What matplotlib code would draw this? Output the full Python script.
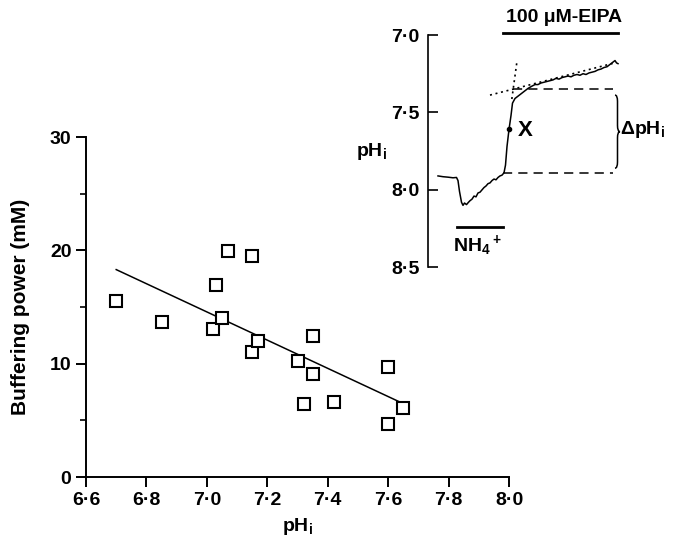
import matplotlib
matplotlib.use("Agg")
import matplotlib.pyplot as plt
from matplotlib.path import Path
from matplotlib.patches import PathPatch
from matplotlib.ticker import FixedLocator

plt.rcParams['font.family'] = ['Liberation Sans', 'DejaVu Sans']
plt.rcParams['font.weight'] = 'bold'
plt.rcParams['axes.labelweight'] = 'bold'
plt.rcParams['mathtext.fontset'] = 'custom'
plt.rcParams['mathtext.rm'] = 'Liberation Sans:bold'
plt.rcParams['mathtext.it'] = 'Liberation Sans:bold'
plt.rcParams['mathtext.bf'] = 'Liberation Sans:bold'

FS = 14

# main panel: buffering power vs pHi
ph_pts = [6.70, 6.85, 7.02, 7.05, 7.03, 7.07, 7.15, 7.15, 7.17, 7.30,
          7.35, 7.35, 7.32, 7.42, 7.60, 7.60, 7.65]
buff_pts = [15.5, 13.7, 13.1, 14.0, 16.9, 19.9, 19.5, 11.0, 12.0, 10.2,
            12.4, 9.1, 6.4, 6.6, 9.7, 4.7, 6.1]
fit_x = [6.70, 7.64]
fit_y = [18.3, 6.6]
x_ticks = [6.6, 6.8, 7.0, 7.2, 7.4, 7.6, 7.8, 8.0]
y_ticks = [0, 10, 20, 30]

# inset: pHi trace (time in arbitrary units)
trace_t = [10, 15, 20, 25, 28.5, 30, 31.5, 33.5, 35, 36.5,
           38.5, 40.5, 42, 44, 46, 48, 50, 52, 54, 56,
           58, 60, 62, 64, 66, 68, 70, 72, 74, 76,
           77.5, 79, 81, 83, 84.5, 87, 90, 94, 97, 100,
           104, 107, 110, 113, 116, 119, 122, 125, 128, 131,
           134, 137, 140, 143, 146, 149, 152, 155, 158, 161,
           164, 167, 170, 173, 176, 179, 182, 185, 187, 188.5, 190]
trace_ph = [7.91, 7.915, 7.918, 7.922, 7.92, 7.94, 8.01, 8.08, 8.10, 8.085,
            8.095, 8.08, 8.07, 8.06, 8.04, 8.045, 8.02, 8.015, 8.00, 7.985,
            7.975, 7.96, 7.955, 7.94, 7.93, 7.935, 7.92, 7.91, 7.905, 7.89,
            7.84, 7.72, 7.61, 7.52, 7.44, 7.41, 7.395, 7.375, 7.36, 7.345,
            7.33, 7.32, 7.32, 7.31, 7.305, 7.30, 7.295, 7.29, 7.28, 7.285,
            7.275, 7.27, 7.265, 7.27, 7.26, 7.255, 7.26, 7.25, 7.255, 7.245,
            7.24, 7.235, 7.225, 7.22, 7.21, 7.205, 7.19, 7.175, 7.165, 7.18, 7.185]
x_point = (81, 7.61)
upper_dash = ([85, 185], [7.351, 7.351])
lower_dash = ([75, 185], [7.894, 7.894])
shallow_dot = ([62, 185], [7.388, 7.183])
steep_dot = ([88.7, 83.7], [7.183, 7.42])
eipa_bar = ([75, 190], 6.987)
nh4_bar = ([29, 75], 8.241)
inset_ticks = [7.0, 7.5, 8.0, 8.5]

fig = plt.figure(figsize=(6.73, 5.49), dpi=100)

ax = fig.add_axes([86 / 673, 1 - 477 / 549, 423 / 673, 340 / 549])
ax.plot(fit_x, fit_y, '-k', lw=1.1)
ax.plot(ph_pts, buff_pts, 's', mfc='white', mec='k', ms=8, mew=1.5, clip_on=False)
ax.set_xlim(6.6, 8.0)
ax.set_ylim(0, 30)
ax.set_xticks(x_ticks)
ax.set_xticklabels([('%.1f' % v).replace('.', '·') for v in x_ticks])
ax.set_yticks(y_ticks)
ax.yaxis.set_minor_locator(FixedLocator([5, 15, 25]))
ax.tick_params(axis='both', which='major', length=7, width=1.4, labelsize=FS, direction='out')
ax.tick_params(axis='y', which='minor', length=4, width=1.2)
ax.spines['top'].set_visible(False)
ax.spines['right'].set_visible(False)
ax.spines['left'].set_linewidth(1.4)
ax.spines['bottom'].set_linewidth(1.4)
ax.set_xlabel(r'pH$_\mathrm{i}$', fontsize=FS, labelpad=5)
ax.set_ylabel('Buffering power (mM)', fontsize=FS + 1, labelpad=14)

ins = fig.add_axes([428 / 673, 1 - 267.3 / 549, 212 / 673, 232.3 / 549])
ins.patch.set_alpha(0)
ins.set_xlim(0, 212)
ins.set_ylim(8.5, 7.0)
ins.plot(trace_t, trace_ph, '-k', lw=1.1)
ins.plot(*x_point, 'ko', ms=3)
ins.plot(*upper_dash, color='k', lw=1.1, dashes=(6, 4))
ins.plot(*lower_dash, color='k', lw=1.1, dashes=(6, 4))
ins.plot(*shallow_dot, color='k', lw=1.2, dashes=(1.2, 2.2))
ins.plot(*steep_dot, color='k', lw=1.2, dashes=(1.2, 2.2))
ins.plot(eipa_bar[0], [eipa_bar[1]] * 2, '-k', lw=2, clip_on=False)
ins.plot(nh4_bar[0], [nh4_bar[1]] * 2, '-k', lw=2, clip_on=False)
ins.text(136, 6.884, '100 μM-EIPA', ha='center', va='center', fontsize=FS)
ins.text(49, 8.36, r'NH$_4$$^+$', ha='center', va='center', fontsize=FS)
ins.text(97.7, 7.618, 'X', ha='center', va='center', fontsize=FS + 2)
ins.text(192.5, 7.61, r'ΔpH$_\mathrm{i}$', ha='left', va='center', fontsize=FS)

# curly brace for delta pHi
top, bot, mid = 7.388, 7.86, 7.624
x0, x1, x2 = 187, 189.5, 192
verts = [(x0, top), (x1, top), (x1, top + 0.04),
         (x1, mid - 0.04), (x1, mid), (x2, mid),
         (x1, mid), (x1, mid + 0.04),
         (x1, bot - 0.04), (x1, bot), (x0, bot)]
codes = [Path.MOVETO, Path.CURVE3, Path.CURVE3,
         Path.LINETO, Path.CURVE3, Path.CURVE3,
         Path.CURVE3, Path.CURVE3,
         Path.LINETO, Path.CURVE3, Path.CURVE3]
ins.add_patch(PathPatch(Path(verts, codes), fc='none', ec='k', lw=1.1))

ins.set_yticks(inset_ticks)
ins.set_yticklabels([('%.1f' % v).replace('.', '·') for v in inset_ticks])
ins.tick_params(axis='y', direction='in', length=7, width=1.2, labelsize=FS, pad=6)
ins.set_xticks([])
for s in ['top', 'right', 'bottom']:
    ins.spines[s].set_visible(False)
ins.spines['left'].set_linewidth(1.2)
ins.set_ylabel(r'pH$_\mathrm{i}$', fontsize=FS, rotation=0, labelpad=14, va='center')

fig.savefig('out.png', dpi=100)
